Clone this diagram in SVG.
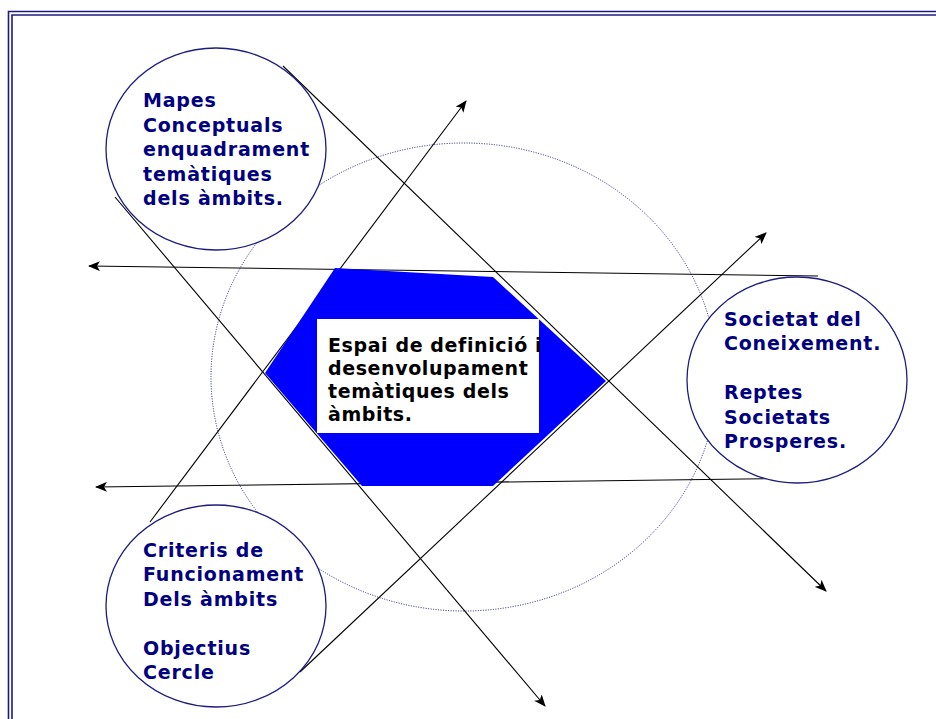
<svg xmlns="http://www.w3.org/2000/svg" width="936" height="719" viewBox="0 0 936 719">
<style>
.frame{stroke:#1c1c80;stroke-width:1.6;fill:none}
.node{fill:#fff;stroke:#1c1c80;stroke-width:1.3}
.lbl{font-family:"DejaVu Sans",Verdana,sans-serif;font-weight:bold;font-size:19px;letter-spacing:0.8px;fill:#000080}
.ctr{font-family:"DejaVu Sans",Verdana,sans-serif;font-weight:bold;font-size:19px;letter-spacing:0.6px;fill:#000}
.conn{stroke:#000;stroke-width:1.1;fill:none}
</style>
<defs>
<marker id="ah" viewBox="0 0 12 10" refX="11" refY="5" markerWidth="12" markerHeight="10" markerUnits="userSpaceOnUse" orient="auto">
<path d="M0,0 L12,5 L0,10 L3,5 Z" fill="#000"/>
</marker>
</defs>
<rect width="936" height="719" fill="#fff"/>
<g id="frame">
<path class="frame" d="M8.5,719 V11.5 H936"/>
<path class="frame" d="M12,719 V15 H936"/>
</g>
<g id="space">
<ellipse cx="464" cy="377" rx="253" ry="234" fill="none" stroke="#1c1c80" stroke-width="1" stroke-dasharray="1 1.5"/>
</g>
<g id="connectors">
<line class="conn" x1="283" y1="66" x2="826" y2="591" marker-end="url(#ah)"/>
<line class="conn" x1="115" y1="197" x2="545" y2="706" marker-end="url(#ah)"/>
<line class="conn" x1="150" y1="522" x2="466" y2="101" marker-end="url(#ah)"/>
<line class="conn" x1="300" y1="672" x2="766" y2="233" marker-end="url(#ah)"/>
<line class="conn" x1="818" y1="276" x2="89" y2="266" marker-end="url(#ah)"/>
<line class="conn" x1="828" y1="478" x2="96" y2="487" marker-end="url(#ah)"/>
</g>
<g id="hexagon">
<polygon points="335,268 493,277 606,381 493,486 362,486 265,373" fill="#0000ff"/>
</g>
<g id="center">
<rect x="317" y="319" width="222" height="114" fill="#fff"/>
<text class="ctr" x="328"><tspan x="328" y="352">Espai de definició i</tspan><tspan x="328" y="375">desenvolupament</tspan><tspan x="328" y="398">temàtiques dels</tspan><tspan x="328" y="421">àmbits.</tspan></text>
</g>
<g id="mapes">
<ellipse class="node" cx="216" cy="149" rx="110" ry="101"/>
<text class="lbl"><tspan x="143" y="107">Mapes</tspan><tspan x="143" y="132">Conceptuals</tspan><tspan x="143" y="156">enquadrament</tspan><tspan x="143" y="181">temàtiques</tspan><tspan x="143" y="205">dels àmbits.</tspan></text>
</g>
<g id="societat">
<ellipse class="node" cx="797" cy="380" rx="110" ry="103"/>
<text class="lbl"><tspan x="724" y="326">Societat del</tspan><tspan x="724" y="350">Coneixement.</tspan><tspan x="724" y="399">Reptes</tspan><tspan x="724" y="424">Societats</tspan><tspan x="724" y="448">Prosperes.</tspan></text>
</g>
<g id="criteris">
<ellipse class="node" cx="216" cy="606" rx="110" ry="101"/>
<text class="lbl"><tspan x="143" y="557">Criteris de</tspan><tspan x="143" y="581">Funcionament</tspan><tspan x="143" y="606">Dels àmbits</tspan><tspan x="143" y="655">Objectius</tspan><tspan x="143" y="679">Cercle</tspan></text>
</g>
</svg>
